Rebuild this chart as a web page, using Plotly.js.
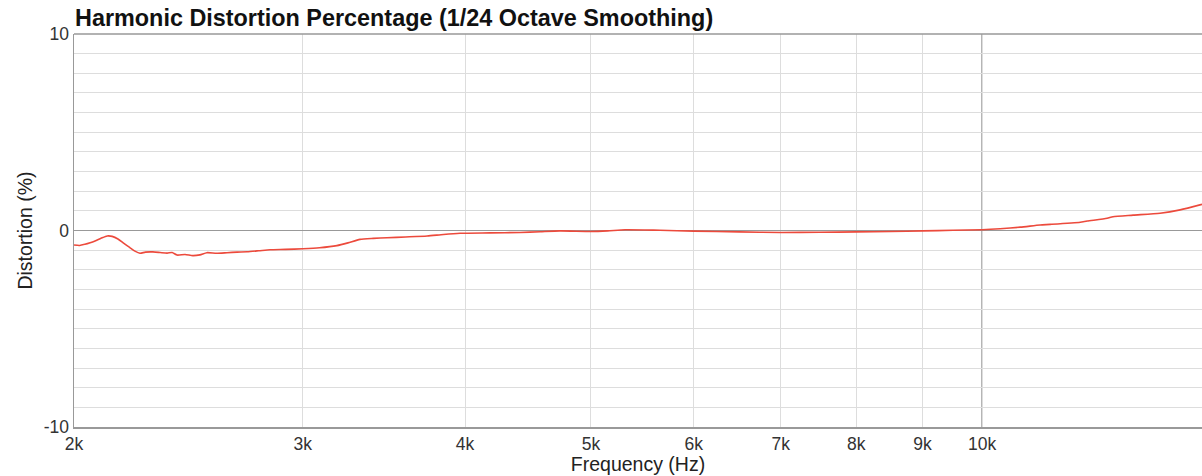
<!DOCTYPE html>
<html>
<head>
<meta charset="utf-8">
<script src="https://cdn.plot.ly/plotly-3.0.1.min.js"></script>
<style>
html,body{margin:0;padding:0;background:#fff;}
#chart{width:1202px;height:476px;}
</style>
</head>
<body>
<div id="chart"></div>
<script>
// Frequency (Hz) and harmonic distortion (%)
const freqHz = [2000, 2020, 2039, 2058, 2076, 2098, 2121, 2140, 2162, 2185, 2209, 2228, 2248, 2270, 2300, 2330, 2359, 2380, 2401, 2435, 2469, 2500, 2531, 2575, 2623, 2670, 2718, 2775, 2831, 2910, 3001, 3090, 3187, 3250, 3320, 3400, 3483, 3600, 3740, 3850, 3965, 4180, 4409, 4570, 4733, 5000, 5150, 5312, 5650, 6000, 6500, 7000, 7500, 8000, 8500, 9000, 9500, 10000, 10326, 10700, 11084, 11283, 11900, 12048, 12482, 12612, 13070, 13710, 14206, 14768];
const distortionPct = [-0.74, -0.76, -0.70, -0.62, -0.53, -0.40, -0.28, -0.30, -0.43, -0.66, -0.88, -1.05, -1.16, -1.10, -1.09, -1.12, -1.15, -1.12, -1.25, -1.22, -1.28, -1.24, -1.13, -1.16, -1.13, -1.10, -1.08, -1.03, -0.98, -0.96, -0.93, -0.88, -0.77, -0.63, -0.45, -0.40, -0.37, -0.33, -0.28, -0.20, -0.14, -0.12, -0.10, -0.06, -0.02, -0.05, -0.02, 0.04, 0.01, -0.03, -0.07, -0.10, -0.09, -0.07, -0.05, -0.02, 0.01, 0.04, 0.09, 0.17, 0.28, 0.31, 0.42, 0.48, 0.62, 0.70, 0.78, 0.88, 1.05, 1.33];

const xTickVals = [2000, 3000, 4000, 5000, 6000, 7000, 8000, 9000, 10000];
const xTickText = ['2k', '3k', '4k', '5k', '6k', '7k', '8k', '9k', '10k'];
const yGridVals = [-10,-9,-8,-7,-6,-5,-4,-3,-2,-1,0,1,2,3,4,5,6,7,8,9,10];
const yLabelVals = [-10, 0, 10];
const yTickText = yGridVals.map(v => yLabelVals.includes(v) ? String(v) : '');

const FONT = '"Liberation Sans", Arial, Helvetica, sans-serif';

const trace = {
  x: freqHz,
  y: distortionPct,
  type: 'scatter',
  mode: 'lines',
  line: {color: '#ec4a3c', width: 1.6, shape: 'spline', smoothing: 0.6},
  hoverinfo: 'x+y'
};

const layout = {
  width: 1202,
  height: 476,
  margin: {l: 74, r: 0, t: 34, b: 49},
  paper_bgcolor: '#ffffff',
  plot_bgcolor: '#ffffff',
  showlegend: false,
  title: {
    text: 'Harmonic Distortion Percentage (1/24 Octave Smoothing)',
    font: {family: FONT, size: 23.4, color: '#111', weight: 'bold'},
    x: 75/1202, xanchor: 'left', xref: 'container',
    y: 1 - 18/476, yanchor: 'middle', yref: 'container'
  },
  xaxis: {
    type: 'log',
    range: [Math.log10(2000), Math.log10(14768)],
    tickmode: 'array',
    tickvals: xTickVals,
    ticktext: xTickText,
    showgrid: true,
    gridcolor: '#dddddd',
    gridwidth: 1,
    showline: true,
    linecolor: '#999999',
    linewidth: 1.5,
    ticks: '',
    tickfont: {family: FONT, size: 17.5, color: '#333'},
    title: {text: 'Frequency (Hz)', font: {family: FONT, size: 19.5, color: '#222'}, standoff: 2},
    zeroline: false,
    fixedrange: true
  },
  yaxis: {
    range: [-10, 10],
    tickmode: 'array',
    tickvals: yGridVals,
    ticktext: yTickText,
    showgrid: true,
    gridcolor: '#dddddd',
    gridwidth: 1,
    showline: true,
    linecolor: '#999999',
    linewidth: 1.5,
    ticks: '',
    tickfont: {family: FONT, size: 17.5, color: '#333'},
    title: {text: 'Distortion (%)', font: {family: FONT, size: 19.5, color: '#222'}, standoff: 6},
    zeroline: true,
    zerolinecolor: '#999999',
    zerolinewidth: 1.5,
    fixedrange: true
  },
  shapes: [
    {type: 'line', xref: 'x', yref: 'paper', x0: 10000, x1: 10000, y0: 0, y1: 1,
     line: {color: '#999999', width: 1.5}, layer: 'below'},
    {type: 'line', xref: 'paper', yref: 'paper', x0: 0, x1: 1, y0: 1, y1: 1,
     line: {color: '#999999', width: 1.5}}
  ]
};

Plotly.newPlot('chart', [trace], layout, {displayModeBar: false, staticPlot: true});
</script>
</body>
</html>
